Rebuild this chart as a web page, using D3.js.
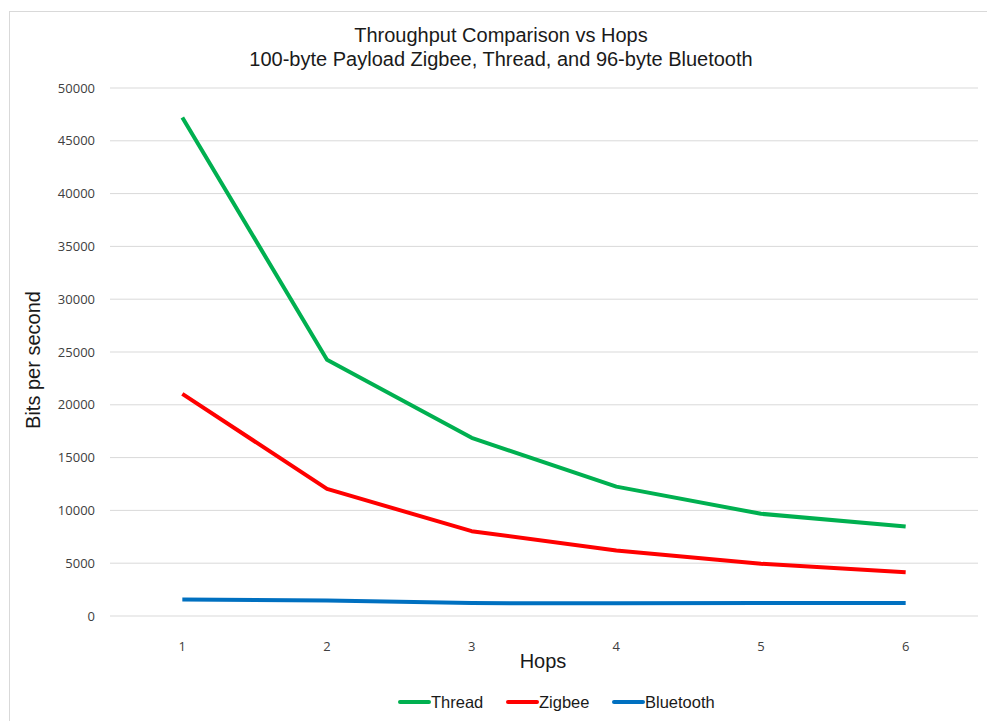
<!DOCTYPE html>
<html>
<head>
<meta charset="utf-8">
<title>Throughput Comparison vs Hops</title>
<script src="https://cdn.jsdelivr.net/npm/d3@7"></script>
<style>
  body { margin: 0; background: #fff; }
  .tick text { font-family: "Open Sans", "DejaVu Sans", sans-serif; fill: #404040; }
</style>
</head>
<body>
<script>
// data
var hops = [1, 2, 3, 4, 5, 6];
var thread = [47200, 24270, 16870, 12250, 9680, 8470];
var zigbee = [21030, 12040, 8030, 6200, 4950, 4150];
var bluetooth = [1560, 1470, 1220, 1200, 1230, 1230];
var yTicks = [0, 5000, 10000, 15000, 20000, 25000, 30000, 35000, 40000, 45000, 50000];
var seriesNames = ['Thread', 'Zigbee', 'Bluetooth'];
var seriesColors = ['#00b050', '#ff0000', '#0070c0'];

var w = 987, h = 721;
var margin = {left: 110, right: 9, top: 88, bottom: 105};
var labelFont = '"Liberation Sans", Arial, sans-serif';

var svg = d3.select('body').append('svg').attr('width', w).attr('height', h);

// chart frame
svg.append('rect').attr('x', 9.5).attr('y', 11.5).attr('width', w + 20).attr('height', h + 20)
  .attr('fill', '#fff').attr('stroke', '#d9d9d9');

var x = d3.scaleBand().domain(hops).range([margin.left, w - margin.right]);
var y = d3.scaleLinear().domain([0, 50000]).range([h - margin.bottom, margin.top]);

// gridlines
svg.append('g').selectAll('line').data(yTicks).enter().append('line')
  .attr('x1', margin.left).attr('x2', w - margin.right)
  .attr('y1', function(d) { return y(d); }).attr('y2', function(d) { return y(d); })
  .attr('stroke', '#d9d9d9').attr('stroke-width', 1);

var yAxis = d3.axisLeft(y).tickValues(yTicks).tickSize(0).tickPadding(15).tickFormat(d3.format('d'));
svg.append('g').attr('transform', 'translate(' + margin.left + ',0)').call(yAxis)
  .call(function(g) { g.select('.domain').remove(); })
  .selectAll('text').attr('font-size', 13);

var xAxis = d3.axisBottom(x).tickSize(0).tickPadding(26);
svg.append('g').attr('transform', 'translate(0,' + y(0) + ')').call(xAxis)
  .call(function(g) { g.select('.domain').remove(); })
  .selectAll('text').attr('font-size', 13);

var all = [thread, zigbee, bluetooth];
var line = d3.line()
  .x(function(d, i) { return x(hops[i]) + x.bandwidth() / 2; })
  .y(function(d) { return y(d); });

// bluetooth first, thread on top
for (var s = all.length - 1; s >= 0; s--) {
  svg.append('path').datum(all[s]).attr('fill', 'none')
    .attr('stroke', seriesColors[s]).attr('stroke-width', 4)
    .attr('stroke-linejoin', 'round').attr('d', line);
}

// titles
var title = svg.append('text').attr('text-anchor', 'middle')
  .attr('font-family', labelFont).attr('font-size', 20).attr('fill', '#1a1a1a');
title.append('tspan').attr('x', 501).attr('y', 42).text('Throughput Comparison vs Hops');
title.append('tspan').attr('x', 501).attr('y', 66).text('100-byte Payload Zigbee, Thread, and 96-byte Bluetooth');

svg.append('text').attr('x', 543).attr('y', 668).attr('text-anchor', 'middle')
  .attr('font-family', labelFont).attr('font-size', 20).attr('fill', '#1a1a1a')
  .text('Hops');

svg.append('text').attr('transform', 'translate(40,360)rotate(-90)').attr('text-anchor', 'middle')
  .attr('font-family', labelFont).attr('font-size', 20).attr('fill', '#1a1a1a')
  .text('Bits per second');

// legend
var legendX = [400, 508, 614];
var legend = svg.append('g').selectAll('g').data(seriesNames).enter().append('g')
  .attr('transform', function(d, i) { return 'translate(' + legendX[i] + ',702)'; });
legend.append('line').attr('x1', 0).attr('x2', 29).attr('y1', 0).attr('y2', 0)
  .attr('stroke', function(d, i) { return seriesColors[i]; }).attr('stroke-width', 4)
  .attr('stroke-linecap', 'round');
legend.append('text').attr('x', 31).attr('y', 6)
  .attr('font-family', labelFont).attr('font-size', 16.5).attr('fill', '#1a1a1a')
  .text(function(d) { return d; });
</script>
</body>
</html>
